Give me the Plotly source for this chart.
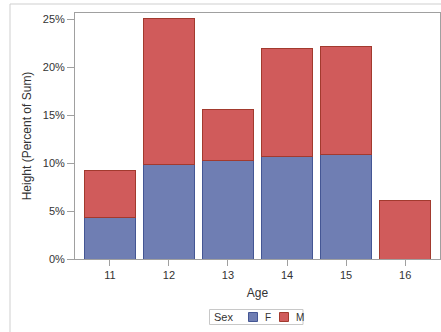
import plotly.graph_objects as go

ages = ["11", "12", "13", "14", "15", "16"]
pct_f = [4.33, 9.80, 10.28, 10.73, 10.89, 0.0]
pct_m = [4.85, 15.29, 5.28, 11.19, 11.27, 6.08]
y_ticks = [0, 5, 10, 15, 20, 25]
y_tick_labels = ["0%", "5%", "10%", "15%", "20%", "25%"]

W, H = 441, 332
L, R, T, B = 75, 1, 13, 73
pw = W - L - R
ph = H - T - B

def px(x):
    return (x - L) / pw

def py(y):
    return (H - B - y) / ph

font = "Liberation Sans, Arial, sans-serif"
fig = go.Figure()
fig.add_trace(go.Bar(x=ages, y=pct_f, name="F", width=0.86,
                     marker=dict(color="#6F7EB3", line=dict(color="#445694", width=1))))
fig.add_trace(go.Bar(x=ages, y=pct_m, name="M", width=0.86,
                     marker=dict(color="#D05B5B", line=dict(color="#A23A2E", width=1))))

fig.update_layout(
    barmode="stack", width=W, height=H,
    margin=dict(l=L, r=R, t=T, b=B),
    paper_bgcolor="white", plot_bgcolor="white",
    showlegend=False,
    font=dict(family=font, size=11, color="#333333"),
)
fig.update_xaxes(
    type="category", range=[-0.59, 5.59],
    showline=True, mirror=True, linecolor="#A0A0A0", linewidth=1,
    ticks="outside", ticklen=6, tickcolor="#A0A0A0",
    tickfont=dict(size=11, color="#333333"),
    title=dict(text="Age", font=dict(size=12, color="#333333"), standoff=8),
    showgrid=False, zeroline=False,
)
fig.update_yaxes(
    range=[0, 25.63],
    tickvals=y_ticks, ticktext=y_tick_labels,
    showline=True, mirror=True, linecolor="#A0A0A0", linewidth=1,
    ticks="outside", ticklen=7, tickcolor="#A0A0A0",
    tickfont=dict(size=11, color="#333333"),
    title=dict(text="Height (Percent of Sum)", font=dict(size=12, color="#333333"), standoff=8),
    showgrid=False, zeroline=False,
)

shapes = []
# outer frame
shapes.append(dict(type="rect", xref="paper", yref="paper",
                   x0=px(10), x1=px(448), y0=py(4), y1=py(345),
                   line=dict(color="#CFCFCF", width=1), fillcolor="rgba(0,0,0,0)", layer="below"))
# legend box
shapes.append(dict(type="rect", xref="paper", yref="paper",
                   x0=px(209.5), x1=px(303), y0=py(309.5), y1=py(324.5),
                   line=dict(color="#C8C8C8", width=1), fillcolor="white"))
shapes.append(dict(type="rect", xref="paper", yref="paper",
                   x0=px(248.5), x1=px(257.5), y0=py(312.5), y1=py(321.5),
                   line=dict(color="#445694", width=1), fillcolor="#6F7EB3"))
shapes.append(dict(type="rect", xref="paper", yref="paper",
                   x0=px(279.5), x1=px(288.5), y0=py(312.5), y1=py(321.5),
                   line=dict(color="#A23A2E", width=1), fillcolor="#D05B5B"))
fig.update_layout(shapes=shapes)

ann = [
    dict(text="Sex", x=px(212), y=py(317), xanchor="left", yanchor="middle",
         font=dict(size=11, color="#333333")),
    dict(text="F", x=px(263), y=py(317), xanchor="left", yanchor="middle",
         font=dict(size=10, color="#333333")),
    dict(text="M", x=px(294), y=py(317), xanchor="left", yanchor="middle",
         font=dict(size=10, color="#333333")),
]
for a in ann:
    a.update(xref="paper", yref="paper", showarrow=False)
fig.update_layout(annotations=ann)

fig.write_html("out.html",
               config={"displayModeBar": False},
               post_script="document.body.style.margin='0';document.body.style.overflow='hidden';")
